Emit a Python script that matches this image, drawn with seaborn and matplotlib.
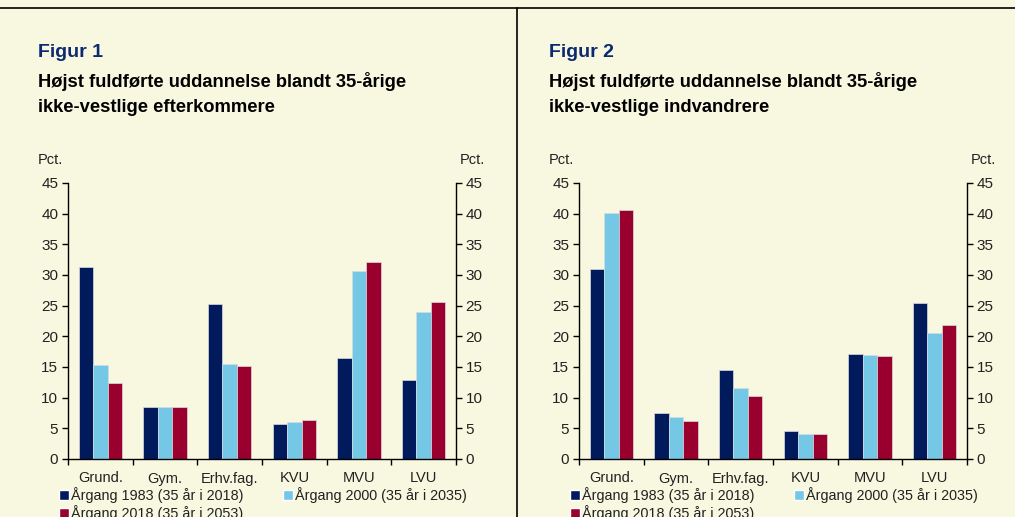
import pandas as pd
import matplotlib.pyplot as plt
import seaborn as sns
from matplotlib.patches import Patch
from matplotlib.lines import Line2D

# Data
categories = ["Grund.", "Gym.", "Erhv.fag.", "KVU", "MVU", "LVU"]
series = ["Årgang 1983 (35 år i 2018)", "Årgang 2000 (35 år i 2035)", "Årgang 2018 (35 år i 2053)"]

# Figur 1 - efterkommere
fig1_1983 = [31.3, 8.4, 25.3, 5.7, 16.4, 12.9]
fig1_2000 = [15.3, 8.4, 15.5, 6.1, 30.6, 24.0]
fig1_2018 = [12.4, 8.5, 15.1, 6.4, 32.2, 25.6]

# Figur 2 - indvandrere
fig2_1983 = [31.0, 7.5, 14.5, 4.5, 17.1, 25.5]
fig2_2000 = [40.1, 6.9, 11.6, 4.0, 17.0, 20.6]
fig2_2018 = [40.6, 6.2, 10.2, 4.1, 16.8, 21.9]

y_ticks = [0, 5, 10, 15, 20, 25, 30, 35, 40, 45]

titles = ["Figur 1", "Figur 2"]
subtitles = [["Højst fuldførte uddannelse blandt 35-årige", "ikke-vestlige efterkommere"],
             ["Højst fuldførte uddannelse blandt 35-årige", "ikke-vestlige indvandrere"]]

colors = ["#001A5C", "#74C8E6", "#9A002E"]
bg = "#F8F8E1"
title_blue = "#0B2A6F"


def long_df(a, b, c):
    rows = []
    for s, vals in zip(series, [a, b, c]):
        for cat, v in zip(categories, vals):
            rows.append({"kategori": cat, "serie": s, "pct": v})
    return pd.DataFrame(rows)


panels = [long_df(fig1_1983, fig1_2000, fig1_2018),
          long_df(fig2_1983, fig2_2000, fig2_2018)]

sns.set_theme(style="ticks")
plt.rcParams['font.family'] = ['Liberation Sans', 'DejaVu Sans']

W, H = 1015, 517
fig = plt.figure(figsize=(W / 100, H / 100), dpi=100, facecolor=bg)

lefts = [68, 579]
for i, df in enumerate(panels):
    x0 = lefts[i]
    ax = fig.add_axes([x0 / W, 1 - 459 / H, 388 / W, (459 - 183) / H])
    ax.set_facecolor(bg)
    sns.barplot(data=df, x="kategori", y="pct", hue="serie", palette=colors,
                saturation=1, width=0.67, ax=ax, legend=False,
                linewidth=0.5, edgecolor="#D8DCE4")
    ax.set_xlim(-0.5, 5.5)
    ax.set_ylim(0, 45)
    ax.set_yticks(y_ticks)
    ax.set_xlabel("")
    ax.set_ylabel("")
    ax.spines['top'].set_visible(False)
    for sp in ['left', 'right', 'bottom']:
        ax.spines[sp].set_visible(True)
        ax.spines[sp].set_color('black')
        ax.spines[sp].set_linewidth(1)
    ax.tick_params(axis='y', which='both', left=True, right=True, labelleft=True,
                   labelright=True, length=4, width=1, color='black',
                   labelsize=11, labelcolor='#222222', pad=3)
    ax.tick_params(axis='x', which='major', length=0, labelsize=10.5,
                   labelcolor='#222222', pad=9)
    ax.set_xticks([k - 0.5 for k in range(7)], minor=True)
    ax.tick_params(axis='x', which='minor', length=4, width=1, color='black')

    # headings
    fig.text((x0 - 30) / W, 1 - 57 / H, titles[i], fontsize=14, fontweight='bold',
             color=title_blue, va='baseline')
    fig.text((x0 - 30) / W, 1 - 87 / H, subtitles[i][0], fontsize=13.2,
             fontweight='bold', color='black', va='baseline')
    fig.text((x0 - 30) / W, 1 - 112 / H, subtitles[i][1], fontsize=13.2,
             fontweight='bold', color='black', va='baseline')
    fig.text((x0 - 30) / W, 1 - 164 / H, "Pct.", fontsize=10.5, color='#222222',
             va='baseline')
    fig.text((x0 + 392) / W, 1 - 164 / H, "Pct.", fontsize=10.5, color='#222222',
             va='baseline')

    # legend: row 1 = 1983, 2000 ; row 2 = 2018
    handles = [Patch(facecolor=colors[0]), Patch(facecolor=colors[2]), Patch(facecolor=colors[1])]
    labels = [series[0], series[2], series[1]]
    ax.legend(handles, labels, ncol=2, loc='upper left',
              bbox_to_anchor=((x0 - 9) / W, 1 - 487 / H), bbox_transform=fig.transFigure,
              frameon=False, fontsize=10.4, handlelength=0.7, handleheight=0.7,
              handletextpad=0.15, columnspacing=2.7, labelspacing=0.15, borderpad=0,
              borderaxespad=0, labelcolor='#222222')

# frame lines
fig.add_artist(Line2D([0, 1], [1 - 8 / H, 1 - 8 / H], transform=fig.transFigure,
                      color='black', lw=1.2))
fig.add_artist(Line2D([517 / W, 517 / W], [0, 1 - 8 / H], transform=fig.transFigure,
                      color='black', lw=1.2))

plt.savefig("out.png", dpi=100, facecolor=bg)
